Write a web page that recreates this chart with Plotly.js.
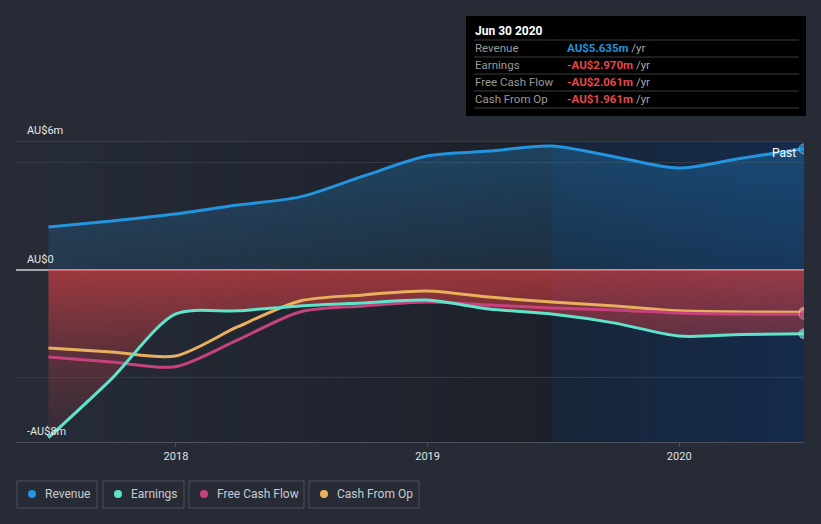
<!DOCTYPE html>
<html>
<head>
<meta charset="utf-8">
<script src="https://cdn.plot.ly/plotly-3.0.1.min.js"></script>
<style>
html,body{margin:0;padding:0;background:#262b36;}
#chart{width:821px;height:524px;}
</style>
</head>
<body>
<div id="chart"></div>
<script>
// ---- data (AU$ millions, trailing twelve months) ----
const dates = ['2017-06-30','2017-09-30','2017-12-31','2018-03-31','2018-06-30','2018-09-30','2018-12-31','2019-03-31','2019-06-30','2019-09-30','2019-12-31','2020-03-31','2020-06-30'];
const revenue = [2.0, 2.28, 2.6, 3.02, 3.4, 4.37, 5.3, 5.53, 5.77, 5.26, 4.74, 5.2, 5.635];
const earnings = [-7.8, -5.05, -2.05, -1.9, -1.67, -1.53, -1.4, -1.81, -2.05, -2.47, -3.07, -3.0, -2.970];
const freeCashFlow = [-4.05, -4.28, -4.5, -3.26, -1.95, -1.67, -1.49, -1.63, -1.77, -1.86, -2.0, -2.05, -2.061];
const cashFromOp = [-3.63, -3.81, -4.0, -2.65, -1.44, -1.16, -0.98, -1.26, -1.49, -1.67, -1.9, -1.95, -1.961];
const seriesNames = ['Revenue','Earnings','Free Cash Flow','Cash From Op'];
const seriesColors = ['#2394df','#5fe3cb','#c5427f','#e8b05c'];
const tickVals = ['2018-01-01','2019-01-01','2020-01-01'];
const tickText = ['2018','2019','2020'];
const yLabelVals = [6, 0, -8];
const yLabelText = ['AU$6m','AU$0','-AU$8m'];
const pastStart = '2019-06-30';
const tooltipTitle = 'Jun 30 2020';

// ---- geometry helpers (pixel -> paper) ----
const L = 16, R = 804, T = 141, B = 442;
const px = x => (x - L) / (R - L);
const py = y => (B - y) / (B - T);
const n = dates.length;
const endSizes = dates.map((d, i) => i === n - 1 ? 10 : 0);
const FONT = 'Roboto, "Open Sans", sans-serif';

const traces = [];
// revenue area
traces.push({
  x: dates, y: revenue, type: 'scatter', mode: 'lines',
  line: {width: 0, shape: 'spline', smoothing: 0.8},
  fill: 'tozeroy',
  fillgradient: {type: 'vertical', start: 0, stop: 6,
    colorscale: [[0, 'rgba(35,148,223,0.12)'], [1, 'rgba(35,148,223,0.30)']]},
  hoverinfo: 'skip', showlegend: false
});
// zero baseline for negative fill
traces.push({
  x: dates, y: dates.map(() => 0), type: 'scatter', mode: 'lines',
  line: {width: 0}, hoverinfo: 'skip', showlegend: false
});
traces.push({
  x: dates, y: earnings, type: 'scatter', mode: 'lines',
  line: {width: 0, shape: 'spline', smoothing: 0.8},
  fill: 'tonexty',
  fillgradient: {type: 'vertical', start: -8, stop: 0,
    colorscale: [[0, 'rgba(225,65,68,0.05)'], [0.5, 'rgba(225,65,68,0.28)'], [1, 'rgba(225,65,68,0.64)']]},
  hoverinfo: 'skip', showlegend: false
});
// lines
const lineData = [revenue, earnings, freeCashFlow, cashFromOp];
[3, 2, 1, 0].forEach(k => {
  traces.push({
    x: dates, y: lineData[k], type: 'scatter', mode: 'lines+markers', name: seriesNames[k],
    line: {color: seriesColors[k], width: 3, shape: 'spline', smoothing: 0.8},
    marker: {size: endSizes, color: seriesColors[k], line: {color: 'rgba(230,230,230,0.7)', width: 1}},
    showlegend: false
  });
});

const svgGrad = (c1, c2) => 'data:image/svg+xml;charset=utf-8,' + encodeURIComponent(
  '<svg xmlns="http://www.w3.org/2000/svg" width="100" height="100" preserveAspectRatio="none">' +
  '<defs><linearGradient id="g" x1="0" y1="0" x2="1" y2="0"><stop offset="0" stop-color="' + c1 + '"/><stop offset="1" stop-color="' + c2 + '"/></linearGradient></defs>' +
  '<rect width="100" height="100" fill="url(#g)"/></svg>');

const xStartPx = 48, pastPx = 552;
const images = [
  {source: svgGrad('#252b37', '#1c2029'), xref: 'paper', yref: 'paper', x: px(xStartPx), y: 1,
   sizex: px(pastPx) - px(xStartPx), sizey: 1, sizing: 'stretch', xanchor: 'left', yanchor: 'top', layer: 'below'},
  {source: svgGrad('#182539', '#152b4b'), xref: 'paper', yref: 'paper', x: px(pastPx), y: 1,
   sizex: 1 - px(pastPx), sizey: 1, sizing: 'stretch', xanchor: 'left', yanchor: 'top', layer: 'below'}
];

const shapes = [];
// grid lines
[5, -5].forEach(v => shapes.push({type: 'line', xref: 'paper', yref: 'y', x0: 0, x1: 1, y0: v, y1: v,
  line: {color: '#333945', width: 1}, layer: 'below'}));
[6].forEach(v => shapes.push({type: 'line', xref: 'paper', yref: 'y', x0: 0, x1: 1, y0: v, y1: v,
  line: {color: '#4a505c', width: 1}, layer: 'below'}));
shapes.push({type: 'line', xref: 'paper', yref: 'y', x0: 0, x1: 1, y0: 0, y1: 0,
  line: {color: '#a3a6ab', width: 2}, layer: 'below'});
// tooltip box
shapes.push({type: 'rect', xref: 'paper', yref: 'paper', x0: px(466), x1: px(806), y0: py(116), y1: py(16),
  fillcolor: '#000000', line: {width: 0}, layer: 'above'});
[40, 57, 74, 91, 108].forEach(y => shapes.push({type: 'line', xref: 'paper', yref: 'paper',
  x0: px(474), x1: px(799), y0: py(y), y1: py(y), line: {color: '#3c3c3c', width: 1}, layer: 'above'}));
// legend boxes
const legendBoxes = [[17, 97], [103, 184], [189, 304], [309, 419]];
legendBoxes.forEach((b, i) => {
  shapes.push({type: 'rect', xref: 'paper', yref: 'paper', x0: px(b[0]), x1: px(b[1]), y0: py(508), y1: py(481),
    fillcolor: 'rgba(0,0,0,0)', line: {color: '#4a505c', width: 1}, layer: 'above'});
  shapes.push({type: 'circle', xref: 'paper', yref: 'paper', x0: px(b[0] + 11), x1: px(b[0] + 19), y0: py(498), y1: py(490),
    fillcolor: seriesColors[i], line: {width: 0}, layer: 'above'});
});

const annotations = [];
yLabelVals.forEach((v, i) => annotations.push({xref: 'paper', yref: 'y', x: px(25), y: v, yshift: 11,
  xanchor: 'left', yanchor: 'middle', text: yLabelText[i], showarrow: false,
  font: {family: FONT, size: 11, color: '#e6e6e6'}}));
annotations.push({xref: 'paper', yref: 'paper', x: px(798), y: py(153), xanchor: 'right', yanchor: 'middle',
  text: 'Past', showarrow: false, font: {family: FONT, size: 12, color: '#ffffff'}});
legendBoxes.forEach((b, i) => annotations.push({xref: 'paper', yref: 'paper', x: px(b[0] + 26), y: py(494),
  xanchor: 'left', yanchor: 'middle', text: seriesNames[i], showarrow: false,
  font: {family: FONT, size: 12, color: '#c8cbd0'}}));
// tooltip texts
annotations.push({xref: 'paper', yref: 'paper', x: px(473), y: py(31), xanchor: 'left', yanchor: 'middle',
  text: '<b>' + tooltipTitle + '</b>', showarrow: false, font: {family: FONT, size: 12, color: '#ffffff'}});
const fmt = v => (v < 0 ? '-' : '') + 'AU$' + Math.abs(v).toFixed(3) + 'm';
lineData.forEach((arr, i) => {
  const v = arr[n - 1];
  const y = py(48 + 17 * i);
  annotations.push({xref: 'paper', yref: 'paper', x: px(473), y: y, xanchor: 'left', yanchor: 'middle',
    text: seriesNames[i], showarrow: false, font: {family: FONT, size: 11.5, color: '#9a9a9a'}});
  const col = v < 0 ? '#e8474a' : '#2394df';
  annotations.push({xref: 'paper', yref: 'paper', x: px(565), y: y, xanchor: 'left', yanchor: 'middle',
    text: '<b><span style="color:' + col + '">' + fmt(v) + '</span></b><span style="color:#a8a8a8"> /yr</span>',
    showarrow: false, font: {family: FONT, size: 11.5, color: '#a8a8a8'}});
});

const layout = {
  width: 821, height: 524,
  margin: {l: L, r: 821 - R, t: T, b: 524 - B, pad: 0},
  paper_bgcolor: '#262b36', plot_bgcolor: '#262b36',
  showlegend: false,
  hovermode: false,
  xaxis: {type: 'date', range: ['2017-05-14', '2020-06-30'], tickvals: tickVals, ticktext: tickText,
    ticks: 'outside', ticklen: 4, tickcolor: '#4a505c', showline: true, linecolor: '#4a505c', linewidth: 1,
    showgrid: false, zeroline: false, tickfont: {family: FONT, size: 11, color: '#e0e0e0'}, fixedrange: true},
  yaxis: {range: [-8, 6], showticklabels: false, showgrid: false, zeroline: false, ticks: '', fixedrange: true},
  images: images, shapes: shapes, annotations: annotations
};

Plotly.newPlot('chart', traces, layout, {displayModeBar: false, staticPlot: true});
</script>
</body>
</html>
